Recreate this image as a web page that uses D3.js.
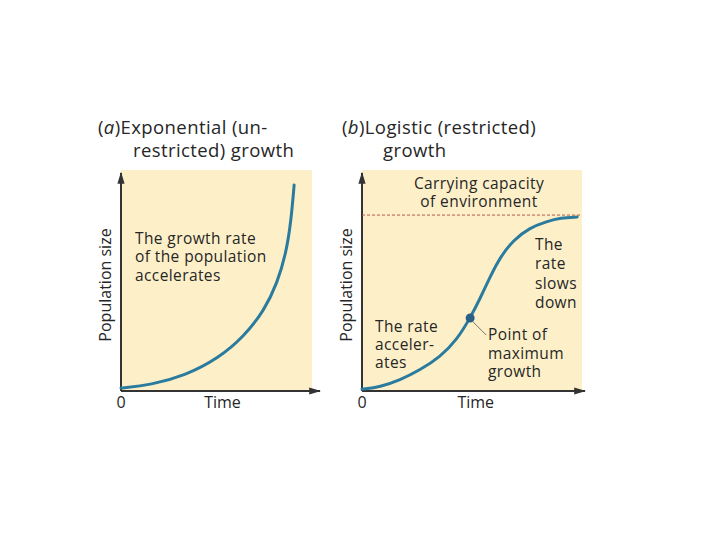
<!DOCTYPE html>
<html>
<head>
<meta charset="utf-8">
<script src="https://cdn.jsdelivr.net/npm/d3@7"></script>
<style>
  body { margin: 0; background: #fff; }
  svg text { font-family: "Open Sans", "Noto Sans", sans-serif; fill: #262626; }
</style>
</head>
<body>
<svg id="chart" width="720" height="540"></svg>
<script>
// data (time 0..10, population 0..100)
const expTime = [0, 0.05, 1.5, 3.2, 4.9, 6.2, 7.2, 7.85, 8.3, 8.55, 8.7, 8.7];
const expPop  = [1.4, 1.4, 2.8, 7.0, 15.0, 25.2, 37.0, 49.5, 63.3, 78.4, 94.5, 94.5];

const logTime = [0, 0.05, 0.8, 1.7, 2.6, 3.5, 4.25, 4.85, 5.3, 5.75, 6.2, 6.8, 7.5, 8.3, 8.9, 9.65, 9.65];
const logPop  = [0.9, 0.9, 1.8, 5.0, 9.6, 15.6, 23.4, 33.5, 42.5, 52.5, 61.5, 69.3, 74.8, 77.8, 79.4, 79.8, 79.8];

const carryingCapacity = 80.7;
const maxGrowthPoint = {t: 4.85, p: 33.5};

const titlesA = ["(a)Exponential (un-", "restricted) growth"];
const titlesB = ["(b)Logistic (restricted)", "growth"];

const svg = d3.select('#chart');
const curveColor = '#2a7b9e';
const bgColor = '#fdf0c9';
const axisColor = '#333';

// x range of each panel, shared y range
const panels = [
  {x0: 121, x1: 320, bgEnd: 312},
  {x0: 362, x1: 585, bgEnd: 582}
];
const yTop = 173, yBottom = 391;

const makeX = p => d3.scaleLinear().domain([0, 10]).range([p.x0, p.x1]);
const y = d3.scaleLinear().domain([0, 100]).range([yBottom, yTop]);

const line = (xs) => d3.line()
  .x(d => xs(d[0]))
  .y(d => y(d[1]))
  .curve(d3.curveBasis);

svg.append('defs').append('marker')
  .attr('id', 'arrow')
  .attr('viewBox', '0 0 10 10')
  .attr('refX', 9).attr('refY', 5)
  .attr('markerWidth', 6).attr('markerHeight', 6)
  .attr('orient', 'auto')
  .append('path')
  .attr('d', 'M0,2 L10,5 L0,8 Z')
  .attr('fill', axisColor);

function drawPanel(p, times, pops, title, titleX, title2X) {
  const x = makeX(p);
  const g = svg.append('g');

  g.append('rect')
    .attr('x', p.x0).attr('y', yTop - 3)
    .attr('width', p.bgEnd - p.x0).attr('height', yBottom - yTop + 3)
    .attr('fill', bgColor);

  // axes as arrows
  g.append('line')
    .attr('x1', p.x0).attr('y1', yBottom).attr('x2', p.x0).attr('y2', yTop)
    .attr('stroke', axisColor).attr('stroke-width', 2)
    .attr('marker-end', 'url(#arrow)');
  g.append('line')
    .attr('x1', p.x0).attr('y1', yBottom).attr('x2', p.x1).attr('y2', yBottom)
    .attr('stroke', axisColor).attr('stroke-width', 2)
    .attr('marker-end', 'url(#arrow)');

  g.append('path')
    .datum(d3.zip(times, pops))
    .attr('d', line(x))
    .attr('fill', 'none')
    .attr('stroke', curveColor)
    .attr('stroke-width', 3)
    .attr('stroke-linecap', 'round');

  // titles
  const t1 = g.append('text').attr('x', titleX).attr('y', 134)
    .attr('font-size', 18.5).attr('letter-spacing', 0.4);
  t1.append('tspan').text('(');
  t1.append('tspan').attr('font-style', 'italic').text(title[0][1]);
  t1.append('tspan').text(title[0].slice(2));
  g.append('text').attr('x', title2X).attr('y', 157)
    .attr('font-size', 18.5).attr('letter-spacing', 0.4).text(title[1]);

  // axis labels
  g.append('text')
    .attr('transform', `translate(${p.x0 - 10},285) rotate(-90)`)
    .attr('text-anchor', 'middle').attr('font-size', 16)
    .text('Population size');
  g.append('text').attr('x', x(0)).attr('y', 408)
    .attr('text-anchor', 'middle').attr('font-size', 16).text('0');
  g.append('text').attr('x', x(5.1)).attr('y', 408)
    .attr('text-anchor', 'middle').attr('font-size', 16).text('Time');

  return {g, x};
}

function lines(g, xPos, yPos, arr, step, anchor) {
  g.append('text')
    .attr('x', xPos).attr('y', yPos)
    .attr('font-size', 15.5).attr('letter-spacing', 0.4)
    .attr('text-anchor', anchor || 'start')
    .selectAll('tspan').data(arr).join('tspan')
    .attr('x', xPos)
    .attr('dy', (d, i) => i ? step : 0)
    .text(d => d);
}

const a = drawPanel(panels[0], expTime, expPop, titlesA, 98, 133);
lines(a.g, 135, 244, ['The growth rate', 'of the population', 'accelerates'], 18.3);

const b = drawPanel(panels[1], logTime, logPop, titlesB, 342, 383);

// carrying capacity dashed line
b.g.append('line')
  .attr('x1', panels[1].x0).attr('x2', panels[1].bgEnd)
  .attr('y1', y(carryingCapacity)).attr('y2', y(carryingCapacity))
  .attr('stroke', '#b5594a').attr('stroke-width', 1)
  .attr('stroke-dasharray', '3,2');
lines(b.g, 479, 189, ['Carrying capacity', 'of environment'], 18, 'middle');

// point of maximum growth
const px = b.x(maxGrowthPoint.t), py = y(maxGrowthPoint.p);
b.g.append('line')
  .attr('x1', px + 3).attr('y1', py + 4).attr('x2', px + 16).attr('y2', py + 17)
  .attr('stroke', '#555').attr('stroke-width', 0.8);
b.g.append('circle')
  .attr('cx', px).attr('cy', py).attr('r', 4.5)
  .attr('fill', '#2a5f86');

lines(b.g, 535, 250, ['The', 'rate', 'slows', 'down'], 19.3);
lines(b.g, 375, 332, ['The rate', 'acceler-', 'ates'], 18);
lines(b.g, 488, 340, ['Point of', 'maximum', 'growth'], 18.5);
</script>
</body>
</html>
